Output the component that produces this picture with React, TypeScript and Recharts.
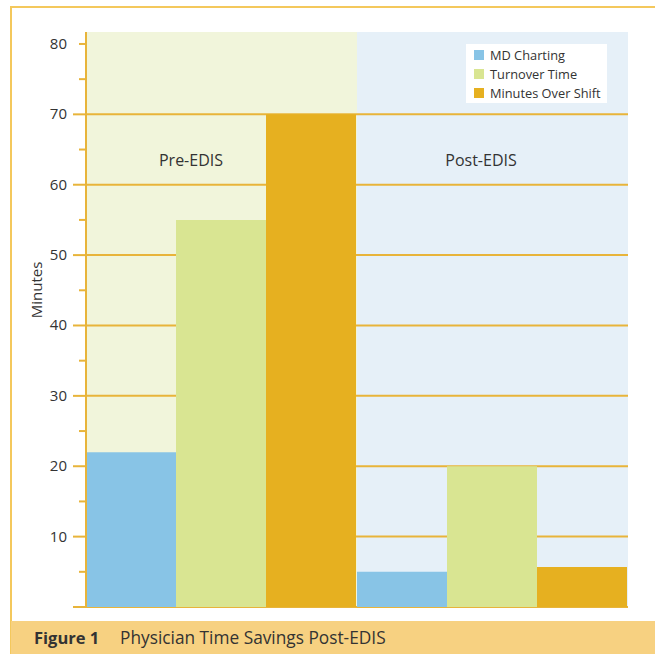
import { Bar, BarChart, CartesianGrid, Legend, XAxis, YAxis } from "recharts";

const periods = ["Pre-EDIS", "Post-EDIS"];
const seriesNames = ["MD Charting", "Turnover Time", "Minutes Over Shift"];
const mdCharting = [22, 5];
const turnoverTime = [55, 20];
const minutesOverShift = [70, 5.7];
const yTicks = [0, 5, 10, 15, 20, 25, 30, 35, 40, 45, 50, 55, 60, 65, 70, 75, 80];
const gridValues = [0, 10, 20, 30, 40, 50, 60, 70];

const data = periods.map((name, i) => ({
  name,
  md: mdCharting[i],
  turnover: turnoverTime[i],
  overShift: minutesOverShift[i]
}));

const gold = "#E8B43A";
const ink = "#333333";
const font = "'Open Sans', sans-serif";
// the period captions sit a little left of the group centres
const periodShift = [-30, -11];

function YTick(props: any) {
  const { x, y, payload } = props;
  const v = payload.value;
  const major = v % 10 === 0 && v !== 80;
  return (
    <g>
      <line x1={x + (major ? 6 : 12)} x2={x + 19} y1={y} y2={y} stroke={gold} strokeWidth={2} />
      {v > 0 && v % 10 === 0 && (
        <text x={x} y={y} dy={5} textAnchor="end" fill={ink} fontSize={15} fontFamily={font}>
          {v}
        </text>
      )}
    </g>
  );
}

// drawn from the middle bar of each group, so it sits over the group centre
function PeriodLabel(props: any) {
  const { x, width, index } = props;
  return (
    <text x={x + width / 2 + (periodShift[index] || 0)} y={166} textAnchor="middle" fill={ink} fontSize={16} fontFamily={font}>
      {periods[index]}
    </text>
  );
}

function LegendBox(props: any) {
  const items = [...(props.payload || [])].sort(
    (a: any, b: any) => seriesNames.indexOf(a.value) - seriesNames.indexOf(b.value)
  );
  return (
    <div style={{ background: "#fff", width: 141, height: 59, boxSizing: "border-box", padding: "1px 0 0 8px" }}>
      {items.map((it: any) => (
        <div key={it.value} style={{ display: "flex", alignItems: "center", height: 19, fontFamily: font, fontSize: 12.8, color: ink }}>
          <span style={{ width: 10, height: 10, background: it.color, marginRight: 6, display: "inline-block" }} />
          {it.value}
        </div>
      ))}
    </div>
  );
}

export default function App() {
  return (
    <div style={{ position: "absolute", left: 0, top: 0, width: 655, height: 654, background: "#fff", overflow: "hidden" }}>
      <div style={{ position: "absolute", left: 10, top: 6, width: 660, height: 660, borderTop: "2px solid #F4C85C", borderLeft: "2px solid #F4C85C" }} />
      <div style={{ position: "absolute", left: 0, top: 0 }}>
        <BarChart width={655} height={621} data={data} margin={{ top: 32, right: 27, bottom: 14, left: 0 }} barCategoryGap={0} barGap={0}>
          <CartesianGrid
            stroke={gold}
            strokeWidth={2}
            horizontalValues={gridValues}
            vertical={(p: any) => <g key={p.key} />}
            verticalFill={["#F1F5DB", "#E6F0F8"]}
            verticalCoordinatesGenerator={({ offset }: any) => [offset.left, offset.left + offset.width / 2]}
          />
          <XAxis dataKey="name" hide />
          <YAxis
            type="number"
            domain={[0, 81.7]}
            ticks={yTicks}
            interval={0}
            width={86}
            tickSize={13}
            tickMargin={6}
            tickLine={false}
            axisLine={{ stroke: gold, strokeWidth: 2 }}
            tick={<YTick />}
            label={{
              content: () => (
                <text transform="translate(42,290) rotate(-90)" textAnchor="middle" fill={ink} fontSize={15} fontFamily={font}>
                  Minutes
                </text>
              )
            }}
          />
          <Legend layout="vertical" align="center" verticalAlign="middle" wrapperStyle={{ left: 466, top: 44, width: 141, height: 59 }} content={<LegendBox />} />
          <Bar dataKey="md" name={seriesNames[0]} fill="#88C4E6" isAnimationActive={false} />
          <Bar dataKey="turnover" name={seriesNames[1]} fill="#D9E592" isAnimationActive={false} label={<PeriodLabel />} />
          <Bar dataKey="overShift" name={seriesNames[2]} fill="#E6B020" isAnimationActive={false} />
        </BarChart>
      </div>
      <div style={{ position: "absolute", left: 11, top: 621, width: 644, height: 33, background: "#F7D181", fontFamily: font, fontSize: 17, color: ink, lineHeight: "33px", whiteSpace: "nowrap" }}>
        <span style={{ position: "absolute", left: 23, fontWeight: 700, fontSize: 16.5 }}>Figure 1</span>
        <span style={{ position: "absolute", left: 109, fontSize: 17.3 }}>Physician Time Savings Post-EDIS</span>
      </div>
    </div>
  );
}
